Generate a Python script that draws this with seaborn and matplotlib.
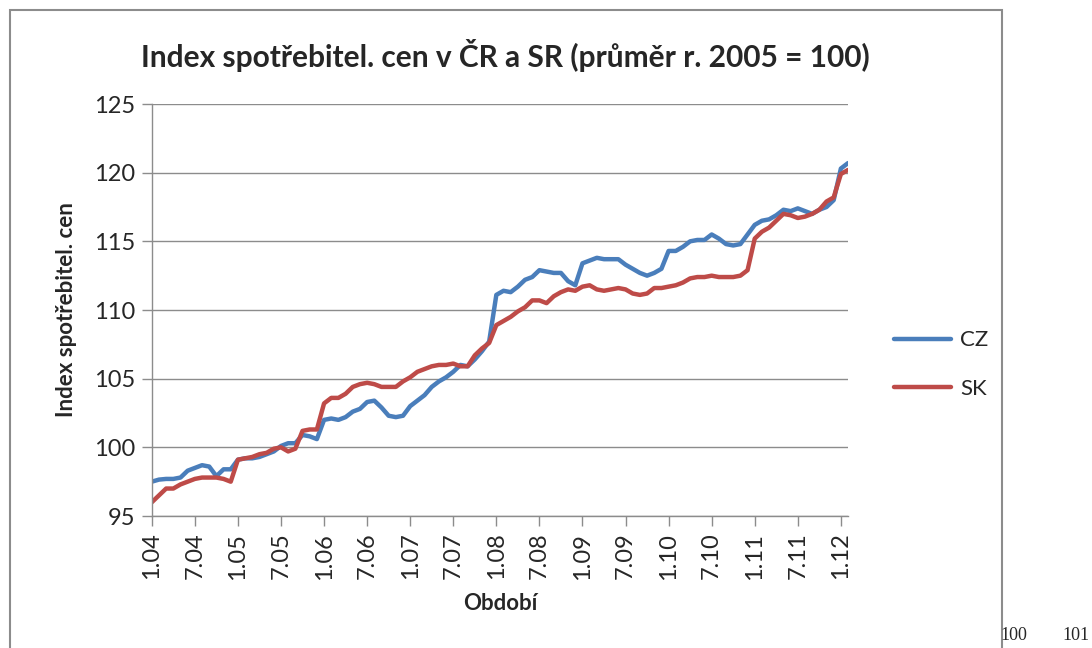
import matplotlib
matplotlib.use("Agg")
import matplotlib.pyplot as plt
import pandas as pd
import seaborn as sns
from matplotlib.patches import Rectangle

# monthly values, Jan 2004 .. Feb 2012
cz = [97.5, 97.65, 97.7, 97.7, 97.8, 98.3, 98.5, 98.7, 98.6, 97.9, 98.4, 98.4,
      99.1, 99.2, 99.2, 99.3, 99.5, 99.7, 100.1, 100.3, 100.3, 100.9, 100.8, 100.6,
      102.0, 102.1, 102.0, 102.2, 102.6, 102.8, 103.3, 103.4, 102.9, 102.3, 102.2, 102.3,
      103.0, 103.4, 103.8, 104.4, 104.8, 105.1, 105.5, 106.0, 105.9, 106.4, 107.0, 107.7,
      111.1, 111.4, 111.3, 111.7, 112.2, 112.4, 112.9, 112.8, 112.7, 112.7, 112.1, 111.8,
      113.4, 113.6, 113.8, 113.7, 113.7, 113.7, 113.3, 113.0, 112.7, 112.5, 112.7, 113.0,
      114.3, 114.3, 114.6, 115.0, 115.1, 115.1, 115.5, 115.2, 114.8, 114.7, 114.8, 115.5,
      116.2, 116.5, 116.6, 116.9, 117.3, 117.2, 117.4, 117.2, 117.0, 117.3, 117.5, 118.0,
      120.3, 120.7]
sk = [96.0, 96.5, 97.0, 97.0, 97.3, 97.5, 97.7, 97.8, 97.8, 97.8, 97.7, 97.5,
      99.1, 99.2, 99.3, 99.5, 99.6, 99.9, 100.0, 99.7, 99.9, 101.2, 101.3, 101.3,
      103.2, 103.6, 103.6, 103.9, 104.4, 104.6, 104.7, 104.6, 104.4, 104.4, 104.4, 104.8,
      105.1, 105.5, 105.7, 105.9, 106.0, 106.0, 106.1, 105.9, 105.9, 106.7, 107.2, 107.6,
      108.9, 109.2, 109.5, 109.9, 110.2, 110.7, 110.7, 110.5, 111.0, 111.3, 111.5, 111.4,
      111.7, 111.8, 111.5, 111.4, 111.5, 111.6, 111.5, 111.2, 111.1, 111.2, 111.6, 111.6,
      111.7, 111.8, 112.0, 112.3, 112.4, 112.4, 112.5, 112.4, 112.4, 112.4, 112.5, 112.9,
      115.2, 115.7, 116.0, 116.5, 117.0, 116.9, 116.7, 116.8, 117.0, 117.3, 117.9, 118.2,
      119.9, 120.2]

periods = [f"{m}.{y:02d}" for y in range(4, 13) for m in range(1, 13)][:len(cz)]
tick_labels = [p for p in periods if p.startswith(("1.", "7."))]
y_ticks = [95, 100, 105, 110, 115, 120, 125]

df = pd.DataFrame({
    "i": list(range(len(cz))) * 2,
    "value": cz + sk,
    "country": ["CZ"] * len(cz) + ["SK"] * len(sk),
})

sns.set_theme(style="white")
plt.rcParams["font.family"] = ["Lato", "DejaVu Sans"]

fig = plt.figure(figsize=(10.92, 6.48), dpi=100)
ax = fig.add_axes([0.139, 0.2037, 0.6376, 0.6358])

sns.lineplot(data=df, x="i", y="value", hue="country",
             palette={"CZ": "#4A7EBB", "SK": "#BE4B48"}, linewidth=3.2, ax=ax)

ax.set_xlim(0, len(cz) - 1)
ax.set_ylim(95, 125)
ax.set_yticks(y_ticks)
ax.set_yticklabels([str(v) for v in y_ticks], fontsize=17)
tick_pos = [periods.index(t) for t in tick_labels]
ax.set_xticks(tick_pos)
ax.set_xticklabels(tick_labels, rotation=90, fontsize=17)
ax.grid(axis="y", color="#8c8c8c", linewidth=1)
ax.set_axisbelow(True)
for s in ["top", "right"]:
    ax.spines[s].set_visible(False)
for s in ["left", "bottom"]:
    ax.spines[s].set_color("#8c8c8c")
    ax.spines[s].set_linewidth(1)
ax.tick_params(axis="both", direction="out", length=7, width=1, color="#8c8c8c",
               bottom=True, left=True, pad=5)

ax.set_xlabel("Období", fontsize=16, fontweight="bold", labelpad=10)
ax.set_ylabel("Index spotřebitel. cen", fontsize=16, fontweight="bold", labelpad=12)

handles, labels = ax.get_legend_handles_labels()
ax.get_legend().remove()
fig.legend(handles, labels, loc="center left", bbox_to_anchor=(0.800, 0.437), frameon=False,
           fontsize=16, handlelength=2.6, handletextpad=0.4, labelspacing=1.3)

fig.text(0.4625, 0.915, "Index spotřebitel. cen v ČR a SR (průměr r. 2005 = 100)",
         ha="center", va="center", fontsize=21.5, fontweight="bold")

fig.patches.append(Rectangle((10 / 1092, -0.01), 992 / 1092, 1 - 10 / 648 + 0.01,
                             transform=fig.transFigure, fill=False,
                             edgecolor="#8c8c8c", linewidth=1.5))

fig.text(1000 / 1092, 12 / 648, "100", fontsize=13, family="Liberation Serif", va="center")
fig.text(1090 / 1092, 12 / 648, "101", fontsize=13, family="Liberation Serif",
         va="center", ha="right")

fig.savefig("out.png", dpi=100)
